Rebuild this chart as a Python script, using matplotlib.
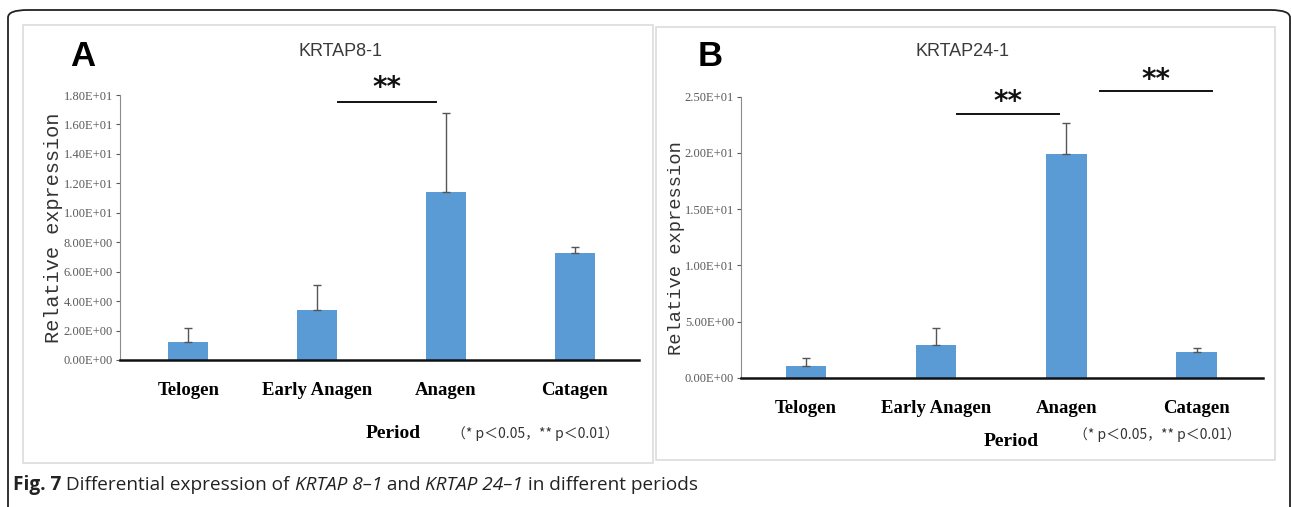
import matplotlib.pyplot as plt
from matplotlib.patches import FancyBboxPatch, Rectangle
from matplotlib.ticker import FuncFormatter

periods = ["Telogen", "Early Anagen", "Anagen", "Catagen"]

# KRTAP8-1
krtap8_mean = [1.25, 3.4, 11.4, 7.3]
krtap8_err = [0.9, 1.7, 5.4, 0.4]

# KRTAP24-1
krtap24_mean = [1.1, 2.9, 19.9, 2.35]
krtap24_err = [0.65, 1.55, 2.8, 0.35]

W, H = 1292, 507
fig = plt.figure(figsize=(W / 100, H / 100), dpi=100)


def fx(x):
    return x / W


def fy(y):
    return 1 - y / H


# outer rounded frame (bottom is cut off by the page)
frame = FancyBboxPatch((fx(8), fy(540)), fx(1282), fy(10) - fy(540),
                       boxstyle="round,pad=0,rounding_size=0.015",
                       transform=fig.transFigure, fill=False,
                       edgecolor="#222222", linewidth=1.3, clip_on=False)
fig.patches.append(frame)

# light panel boxes
for x0, y0, x1, y1 in [(23, 25, 653, 463), (656, 27, 1275, 460)]:
    fig.patches.append(Rectangle((fx(x0), fy(y1)), fx(x1 - x0), fy(y0) - fy(y1),
                                 transform=fig.transFigure, fill=False,
                                 edgecolor="#dcdcdc", linewidth=1.2))


def panel(rect, means, errs, ymax, ystep, sig, lab_x, lab_y, lab_size):
    ax = fig.add_axes(rect)
    x = range(len(periods))
    ax.bar(x, means, width=0.31, color="#5b9bd5", zorder=2)
    ax.errorbar(x, means, yerr=[[0] * len(errs), errs], fmt="none",
                ecolor="#555555", elinewidth=1, capsize=3, capthick=1, zorder=3)
    ax.set_ylim(0, ymax)
    ticks = [i * ystep for i in range(int(round(ymax / ystep)) + 1)]
    ax.set_yticks(ticks)
    ax.yaxis.set_major_formatter(FuncFormatter(lambda v, p: "%.2E" % v))
    ax.set_xticks(list(x))
    ax.set_xticklabels(periods, fontfamily="Liberation Serif", fontweight="bold",
                       fontsize=13.5)
    ax.tick_params(axis="x", length=0, pad=16)
    ax.tick_params(axis="y", length=3, width=0.8, colors="#5a5a5a",
                   labelsize=9, direction="out", pad=2)
    for lab in ax.get_yticklabels():
        lab.set_fontfamily("Liberation Serif")
    for s in ["top", "right"]:
        ax.spines[s].set_visible(False)
    ax.spines["left"].set_color("#8c8c8c")
    ax.spines["left"].set_linewidth(0.8)
    ax.spines["bottom"].set_linewidth(1.8)
    ax.spines["bottom"].set_color("#111111")
    ax.set_ylabel("Relative expression", fontfamily="Liberation Mono",
                  fontsize=lab_size, color="#333333")
    ax.yaxis.set_label_coords(lab_x, lab_y)
    for x0, x1, yl, yt in sig:
        ax.plot([x0, x1], [yl, yl], color="#111111", lw=1.4, clip_on=False)
        ax.text((x0 + x1) / 2, yt, "**", ha="center", va="center",
                fontsize=20, fontweight="bold", color="#111111", clip_on=False)
    return ax


axA = panel([fx(120), fy(360), fx(639 - 120), fy(95) - fy(360)],
            krtap8_mean, krtap8_err, 18, 2,
            [(1.16, 1.92, 17.5, 18.5)], -0.11, 0.5, 14.6)
axA.set_xlim(-0.53, 3.5)
axB = panel([fx(741), fy(378), fx(1263 - 741), fy(96.7) - fy(378)],
            krtap24_mean, krtap24_err, 25, 5,
            [(1.16, 1.94, 23.5, 24.5), (2.26, 3.12, 25.5, 26.5)],
            -0.107, 0.46, 13.5)
axB.set_xlim(-0.5, 3.51)

# titles
fig.text(fx(340), fy(52), "KRTAP8-1", fontsize=13, color="#3a3a3a",
         fontfamily="Liberation Sans", ha="center", va="center")
fig.text(fx(963), fy(52), "KRTAP24-1", fontsize=13, color="#3a3a3a",
         fontfamily="Liberation Sans", ha="center", va="center")

# panel letters
fig.text(fx(83), fy(56), "A", fontsize=25, fontweight="bold", ha="center",
         va="center", fontfamily="Liberation Sans")
fig.text(fx(710), fy(56), "B", fontsize=25, fontweight="bold", ha="center",
         va="center", fontfamily="Liberation Sans")

# x-axis name and p-value notes
fig.text(fx(393), fy(433), "Period", fontsize=14, fontweight="bold",
         fontfamily="Liberation Serif", ha="center", va="center")
fig.text(fx(1011), fy(441), "Period", fontsize=14, fontweight="bold",
         fontfamily="Liberation Serif", ha="center", va="center")
note = "（* p＜0.05，** p＜0.01）"
fig.text(fx(535), fy(434), note, fontsize=10, color="#333333",
         family=["Noto Sans CJK SC", "DejaVu Sans"], ha="center", va="center")
fig.text(fx(1157), fy(435), note, fontsize=10, color="#333333",
         family=["Noto Sans CJK SC", "DejaVu Sans"], ha="center", va="center")

# caption, drawn piece by piece
parts = [("Fig. 7", "bold", "normal"),
         (" Differential expression of ", "normal", "normal"),
         ("KRTAP 8–1", "normal", "italic"),
         (" and ", "normal", "normal"),
         ("KRTAP 24–1", "normal", "italic"),
         (" in different periods", "normal", "normal")]
fig.canvas.draw()
renderer = fig.canvas.get_renderer()
xpos = 13
for txt, wt, st in parts:
    t = fig.text(fx(xpos), fy(490), txt, fontsize=13.7, fontweight=wt,
                 fontstyle=st, fontfamily="Open Sans", color="#222222",
                 va="baseline")
    bb = t.get_window_extent(renderer)
    xpos += bb.width

fig.savefig("out.png", dpi=100)
